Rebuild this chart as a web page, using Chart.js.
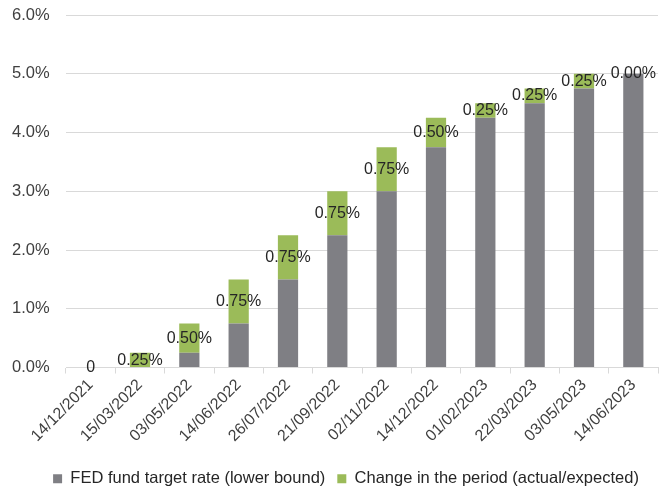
<!DOCTYPE html>
<html>
<head>
<meta charset="utf-8">
<script src="https://cdn.jsdelivr.net/npm/chart.js@4.4.0/dist/chart.umd.min.js"></script>
<style>
html,body{margin:0;padding:0;background:#fff;}
#wrap{width:660px;height:489px;position:relative;}
</style>
</head>
<body>
<div id="wrap"><canvas id="c"></canvas></div>
<script>
const categories = ["14/12/2021","15/03/2022","03/05/2022","14/06/2022","26/07/2022","21/09/2022","02/11/2022","14/12/2022","01/02/2023","22/03/2023","03/05/2023","14/06/2023"];
const baseRate = [0, 0, 0.25, 0.75, 1.5, 2.25, 3.0, 3.75, 4.25, 4.5, 4.75, 5.0];
const changeRate = [0, 0.25, 0.5, 0.75, 0.75, 0.75, 0.75, 0.5, 0.25, 0.25, 0.25, 0];
const changeLabels = ["0","0.25%","0.50%","0.75%","0.75%","0.75%","0.75%","0.50%","0.25%","0.25%","0.25%","0.00%"];
const yTicks = [0,1,2,3,4,5,6];

const FONT = '"Liberation Sans", Arial, sans-serif';

const labelPlugin = {
  id: 'segLabels',
  afterLayout(chart) {
    // nudge the legend row to sit where the reference places it
    if (chart.legend) { chart.legend.left += 11; chart.legend.right += 11; }
  },
  afterDatasetsDraw(chart) {
    const ctx = chart.ctx;
    const meta = chart.getDatasetMeta(1);
    const yScale = chart.scales.y;
    ctx.save();
    ctx.font = '16px ' + FONT;
    ctx.fillStyle = '#262626';
    ctx.textAlign = 'center';
    ctx.textBaseline = 'middle';
    meta.data.forEach((bar, i) => {
      const mid = yScale.getPixelForValue(baseRate[i] + changeRate[i] / 2);
      ctx.fillText(changeLabels[i], bar.x, mid);
    });
    ctx.restore();
  }
};

new Chart(document.getElementById('c'), {
  type: 'bar',
  data: {
    labels: categories,
    datasets: [
      { label: 'FED fund target rate (lower bound)', data: baseRate, backgroundColor: '#7f7f84', stack: 's', barPercentage: 0.82, categoryPercentage: 0.5 },
      { label: 'Change in the period (actual/expected)', data: changeRate, backgroundColor: '#9bbb59', stack: 's', barPercentage: 0.82, categoryPercentage: 0.5 }
    ]
  },
  options: {
    responsive: true,
    maintainAspectRatio: false,
    animation: false,
    layout: { padding: { top: 15, right: 2, left: 12, bottom: -8 } },
    plugins: {
      legend: {
        position: 'bottom',
        labels: {
          boxWidth: 9, boxHeight: 9, padding: 12,
          color: '#262626',
          font: { family: FONT, size: 16.5 }
        }
      },
      tooltip: { enabled: false }
    },
    scales: {
      x: {
        stacked: true,
        offset: true,
        afterFit(axis) { axis.height = 91; },
        grid: { offset: true, drawOnChartArea: false, drawTicks: true, tickLength: 6, color: '#d9d9d9' },
        border: { color: '#d9d9d9' },
        ticks: {
          color: '#404040', maxRotation: 45, minRotation: 45, autoSkip: false, padding: 2,
          font: { family: FONT, size: 16 }
        }
      },
      y: {
        stacked: true,
        min: 0, max: 6,
        afterFit(axis) { axis.width = 54; },
        afterBuildTicks(axis) { axis.ticks = yTicks.map(v => ({ value: v })); },
        grid: { color: '#d9d9d9', drawTicks: false },
        border: { display: false },
        ticks: {
          padding: 2,
          crossAlign: 'far',
          color: '#404040',
          font: { family: FONT, size: 16.5 },
          callback: v => v.toFixed(1) + '%'
        }
      }
    }
  },
  plugins: [labelPlugin]
});
</script>
</body>
</html>
